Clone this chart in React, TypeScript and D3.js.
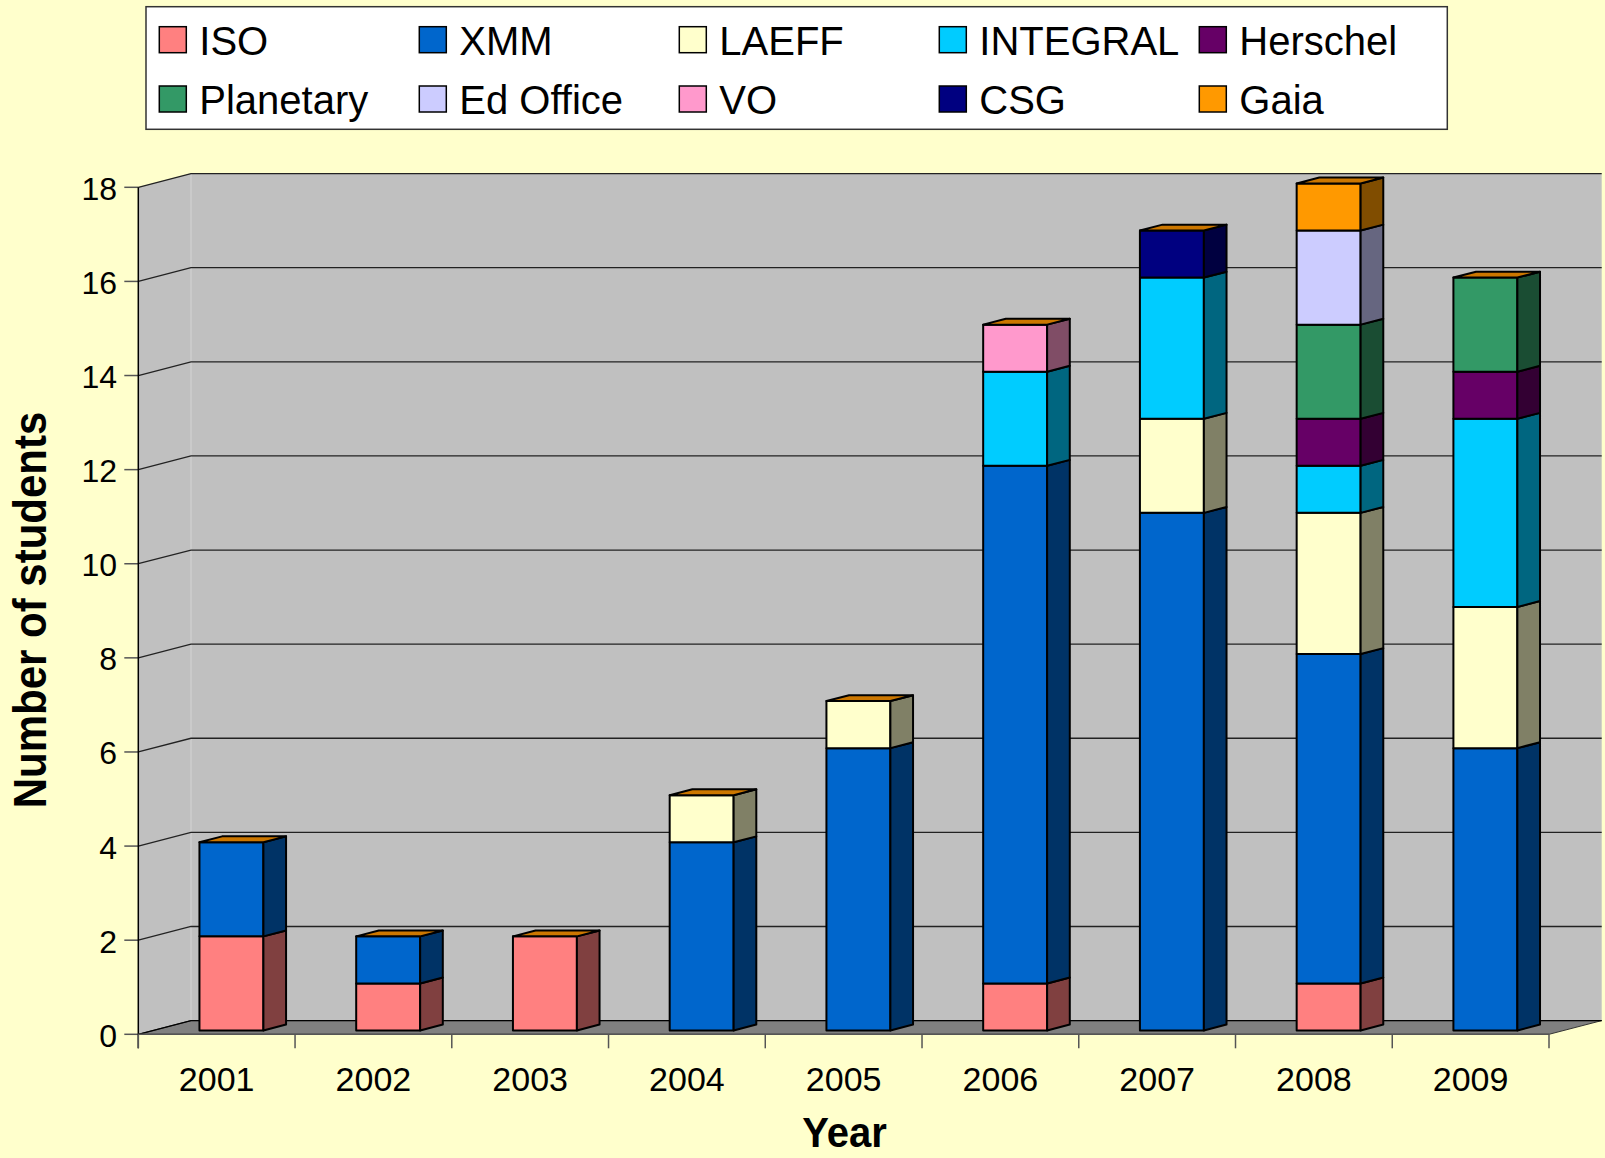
import { useEffect, useRef } from 'react';
import * as d3 from 'd3';

const years = ['2001', '2002', '2003', '2004', '2005', '2006', '2007', '2008', '2009'];
const seriesNames = ['ISO', 'XMM', 'LAEFF', 'INTEGRAL', 'Herschel', 'Planetary', 'Ed Office', 'VO', 'CSG', 'Gaia'];
const seriesColors = ['#FF8080', '#0066CC', '#FFFFCC', '#00CCFF', '#660066', '#339966', '#CCCCFF', '#FF99CC', '#000080', '#FF9900'];

const iso = [2, 1, 2, 0, 0, 1, 0, 1, 0];
const xmm = [2, 1, 0, 4, 6, 11, 11, 7, 6];
const laeff = [0, 0, 0, 1, 1, 0, 2, 3, 3];
const integral = [0, 0, 0, 0, 0, 2, 3, 1, 4];
const herschel = [0, 0, 0, 0, 0, 0, 0, 1, 1];
const planetary = [0, 0, 0, 0, 0, 0, 0, 2, 2];
const edOffice = [0, 0, 0, 0, 0, 0, 0, 2, 0];
const vo = [0, 0, 0, 0, 0, 1, 0, 0, 0];
const csg = [0, 0, 0, 0, 0, 0, 1, 0, 0];
const gaia = [0, 0, 0, 0, 0, 0, 0, 1, 0];

const yTicks = [0, 2, 4, 6, 8, 10, 12, 14, 16, 18];

const FONT = '"Liberation Sans", Arial, sans-serif';

export default function App() {
  const ref = useRef<SVGSVGElement | null>(null);

  useEffect(() => {
    if (!ref.current) return;
    const W = 1605;
    const H = 1158;
    // 3d depth offset of the walls
    const DX = 52.7;
    const DY = 13.7;
    const D0 = 0.28;
    const D1 = 0.71;

    const values = [iso, xmm, laeff, integral, herschel, planetary, edOffice, vo, csg, gaia];
    const table = years.map((yr, i) => {
      const row: any = { year: yr };
      seriesNames.forEach((s, k) => (row[s] = values[k][i]));
      return row;
    });
    const stacked = d3.stack<any>().keys(seriesNames)(table);

    const x = d3
      .scaleBand()
      .domain(years)
      .range([138.3, 1549])
      .paddingInner(0.592)
      .paddingOuter(0.296);
    const y = d3.scaleLinear().domain([0, 18]).range([1034.3, 187.3]);
    const xL = 138.3;
    const xR = 1549;

    const svg = d3.select(ref.current);
    svg.selectAll('*').remove();

    svg.append('rect').attr('width', W).attr('height', H).attr('fill', '#FFFFCC');

    // walls
    const line = d3.line();
    svg
      .append('path')
      .attr('d', line([[xL + DX, y(18) - DY], [xR + DX, y(18) - DY], [xR + DX, y(0) - DY], [xL + DX, y(0) - DY]]) + 'Z')
      .attr('fill', '#C0C0C0');
    svg
      .append('path')
      .attr('d', line([[xL, y(18)], [xL + DX, y(18) - DY], [xL + DX, y(0) - DY], [xL, y(0)]]) + 'Z')
      .attr('fill', '#C0C0C0');
    svg
      .append('line')
      .attr('x1', xL + DX)
      .attr('x2', xL + DX)
      .attr('y1', y(18) - DY)
      .attr('y2', y(0) - DY)
      .attr('stroke', '#D4D4D4')
      .attr('stroke-width', 1);
    // floor
    svg
      .append('path')
      .attr('d', line([[xL, y(0)], [xL + DX, y(0) - DY], [xR + DX, y(0) - DY], [xR, y(0)]]) + 'Z')
      .attr('fill', '#808080')
      .attr('stroke', '#333')
      .attr('stroke-width', 1);

    // gridlines
    yTicks.forEach((t) => {
      svg
        .append('path')
        .attr('d', line([[xL, y(t)], [xL + DX, y(t) - DY], [xR + DX, y(t) - DY]]))
        .attr('fill', 'none')
        .attr('stroke', t === 0 ? '#000' : '#222')
        .attr('stroke-width', 1.3);
      svg
        .append('line')
        .attr('x1', xL - 14)
        .attr('x2', xL)
        .attr('y1', y(t))
        .attr('y2', y(t))
        .attr('stroke', '#555')
        .attr('stroke-width', 1.5);
      svg
        .append('text')
        .attr('x', 117)
        .attr('y', y(t) + 12.5)
        .attr('text-anchor', 'end')
        .style('font-family', FONT)
        .style('font-size', '32px')
        .style('fill', '#000')
        .text(t);
    });

    // axes lines
    svg
      .append('line')
      .attr('x1', xL)
      .attr('x2', xL)
      .attr('y1', y(18))
      .attr('y2', y(0) + 14)
      .attr('stroke', '#000')
      .attr('stroke-width', 1.5);
    svg
      .append('line')
      .attr('x1', xL)
      .attr('x2', xR)
      .attr('y1', y(0))
      .attr('y2', y(0))
      .attr('stroke', '#555')
      .attr('stroke-width', 1.5);
    const step = x.step();
    d3.range(years.length + 1).forEach((i) => {
      svg
        .append('line')
        .attr('x1', xL + i * step)
        .attr('x2', xL + i * step)
        .attr('y1', y(0))
        .attr('y2', y(0) + 14)
        .attr('stroke', '#555')
        .attr('stroke-width', 1.5);
    });
    years.forEach((yr) => {
      svg
        .append('text')
        .attr('x', (x(yr) as number) + x.bandwidth() / 2)
        .attr('y', 1091)
        .attr('text-anchor', 'middle')
        .style('font-family', FONT)
        .style('font-size', '34px')
        .style('fill', '#000')
        .text(yr);
    });

    // bars
    const bw = x.bandwidth();
    const dd = D1 - D0;
    const half = (c: string) => {
      const r = d3.rgb(c);
      return d3.rgb(r.r * 0.5, r.g * 0.5, r.b * 0.5).formatHex();
    };
    const g = svg.append('g').attr('stroke', '#000').attr('stroke-width', 2).attr('stroke-linejoin', 'round');
    years.forEach((yr, i) => {
      const xf = (x(yr) as number) + D0 * DX;
      let topIdx = -1;
      stacked.forEach((s, k) => {
        if (s[i][1] > s[i][0]) topIdx = k;
      });
      stacked.forEach((s, k) => {
        const lo = s[i][0];
        const hi = s[i][1];
        if (hi <= lo) return;
        const yt = y(hi) - D0 * DY;
        const yb = y(lo) - D0 * DY;
        g.append('rect')
          .attr('x', xf)
          .attr('y', yt)
          .attr('width', bw)
          .attr('height', yb - yt)
          .attr('fill', seriesColors[k]);
        g.append('path')
          .attr(
            'd',
            line([[xf + bw, yt], [xf + bw + dd * DX, yt - dd * DY], [xf + bw + dd * DX, yb - dd * DY], [xf + bw, yb]]) + 'Z'
          )
          .attr('fill', half(seriesColors[k]));
        if (k === topIdx) {
          g.append('path')
            .attr('d', line([[xf, yt], [xf + dd * DX, yt - dd * DY], [xf + bw + dd * DX, yt - dd * DY], [xf + bw, yt]]) + 'Z')
            .attr('fill', '#CC7700');
        }
      });
    });

    // axis titles
    svg
      .append('text')
      .attr('transform', 'translate(844.5,1147) scale(1,1.05)')
      .attr('text-anchor', 'middle')
      .style('font-family', FONT)
      .style('font-size', '40px')
      .style('font-weight', 'bold')
      .text('Year');
    svg
      .append('text')
      .attr('transform', 'translate(46,610) rotate(-90) scale(1,1.12)')
      .attr('text-anchor', 'middle')
      .style('font-family', FONT)
      .style('font-size', '42px')
      .style('font-weight', 'bold')
      .text('Number of students');

    // legend
    const leg = svg.append('g');
    leg
      .append('rect')
      .attr('x', 146)
      .attr('y', 6.7)
      .attr('width', 1301.3)
      .attr('height', 122.6)
      .attr('fill', '#fff')
      .attr('stroke', '#333')
      .attr('stroke-width', 1.5);
    seriesNames.forEach((s, k) => {
      const col = k % 5;
      const row = Math.floor(k / 5);
      const sx = 159.3 + col * 260;
      const sy = row === 0 ? 26.7 : 86;
      leg
        .append('rect')
        .attr('x', sx)
        .attr('y', sy)
        .attr('width', 27)
        .attr('height', 26)
        .attr('fill', seriesColors[k])
        .attr('stroke', '#000')
        .attr('stroke-width', 1.5);
      leg
        .append('text')
        .attr('x', sx + 40)
        .attr('y', row === 0 ? 55 : 113.7)
        .style('font-family', FONT)
        .style('font-size', '40px')
        .style('fill', '#000')
        .text(s);
    });
  }, []);

  return (
    <svg
      ref={ref}
      width={1605}
      height={1158}
      style={{ position: 'absolute', left: 0, top: 0, display: 'block' }}
    />
  );
}
